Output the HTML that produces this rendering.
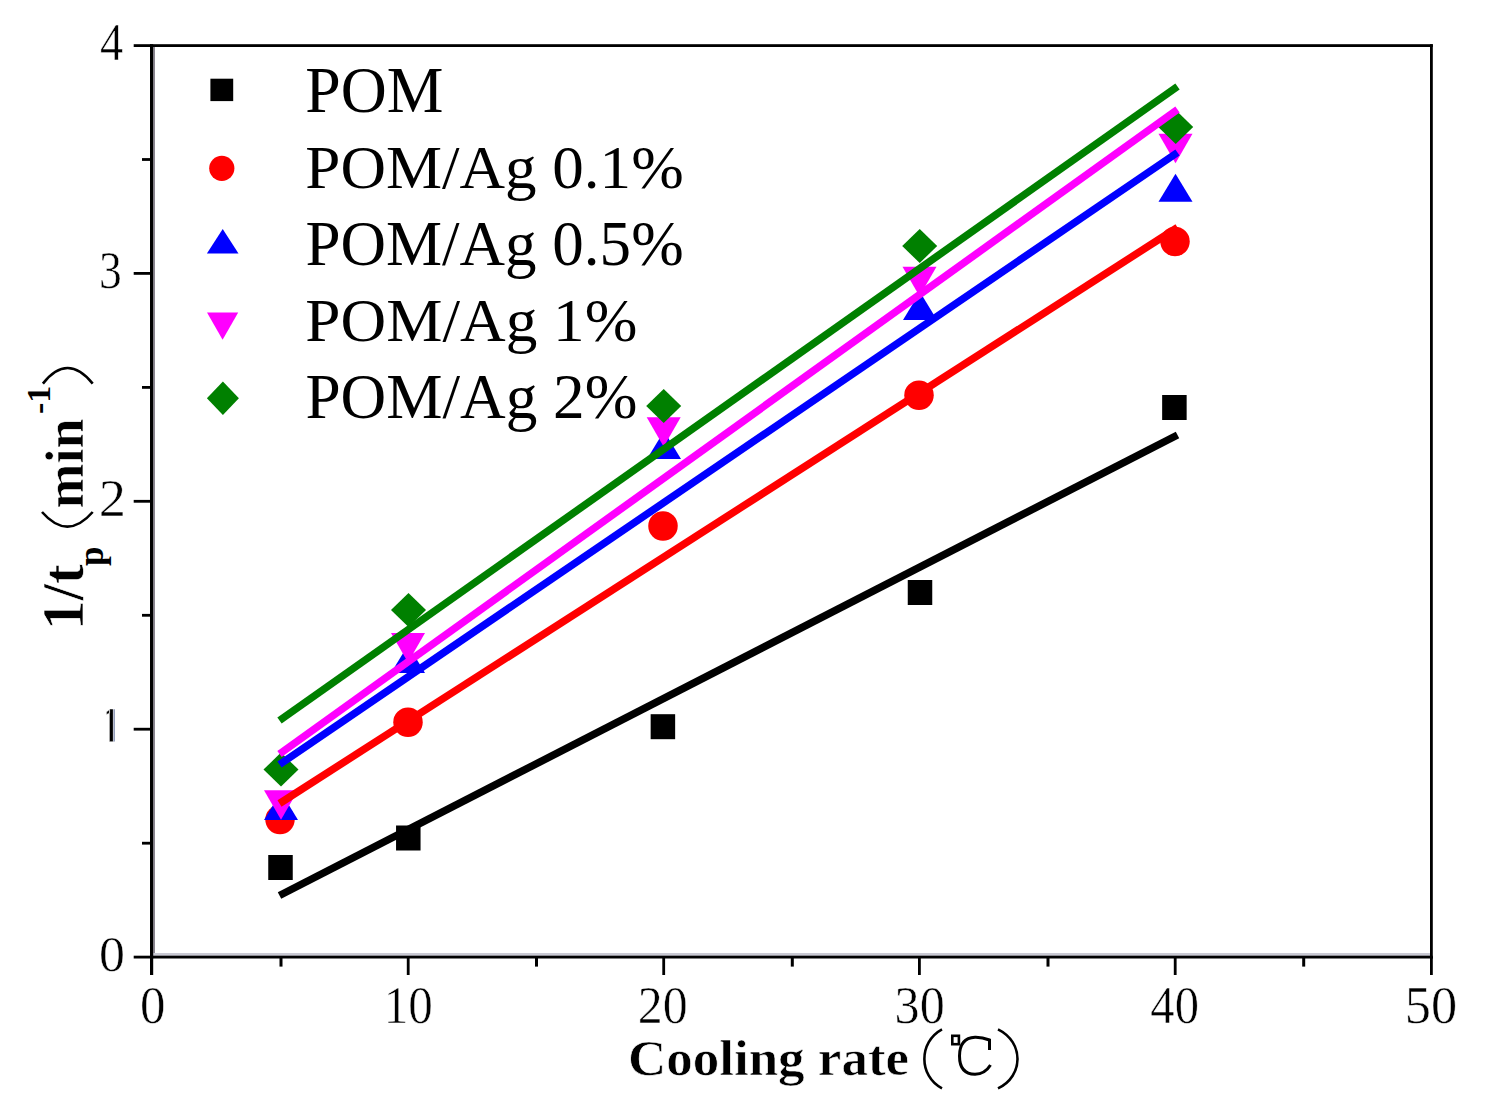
<!DOCTYPE html>
<html><head><meta charset="utf-8"><title>Chart</title>
<style>
html,body{margin:0;padding:0;background:#fff;}
body{width:1499px;height:1102px;overflow:hidden;}
svg{display:block;}
text{font-family:"Liberation Serif",serif;fill:#000;}
.b{font-weight:bold;stroke:#fff;stroke-width:0.6px;}
.t{stroke:#fff;stroke-width:0.5px;}
</style></head><body>
<svg width="1499" height="1102" viewBox="0 0 1499 1102">
<rect x="0" y="0" width="1499" height="1102" fill="#fff"/>

<g id="axes">
  <rect x="153" y="953" width="1277" height="3" fill="#c9c9d3"/>
  <rect x="153.2" y="47" width="1.8" height="906" fill="#8a8590"/>
  <rect x="150" y="44.2" width="1282.8" height="2.8" fill="#000"/>
  <rect x="150" y="44.2" width="3.2" height="914.2" fill="#000"/>
  <rect x="1430" y="44.2" width="2.8" height="914.2" fill="#000"/>
  <rect x="150" y="955.7" width="1282.8" height="2.8" fill="#000"/>
  <g fill="#000">
    <rect x="133.7" y="955.7" width="17" height="2.8"/>
    <rect x="133.7" y="727.8" width="17" height="2.8"/>
    <rect x="133.7" y="499.9" width="17" height="2.8"/>
    <rect x="133.7" y="272" width="17" height="2.8"/>
    <rect x="133.7" y="44.2" width="17" height="2.8"/>
    <rect x="142" y="841.8" width="9" height="2.8"/>
    <rect x="142" y="613.9" width="9" height="2.8"/>
    <rect x="142" y="386" width="9" height="2.8"/>
    <rect x="142" y="158.1" width="9" height="2.8"/>
    <rect x="150" y="957" width="3.2" height="18"/>
    <rect x="406.8" y="957" width="2.8" height="18"/>
    <rect x="662.3" y="957" width="2.8" height="18"/>
    <rect x="918" y="957" width="2.8" height="18"/>
    <rect x="1173.8" y="957" width="2.8" height="18"/>
    <rect x="1430" y="957" width="2.8" height="18"/>
    <rect x="279.5" y="957" width="3" height="9.6"/>
    <rect x="535" y="957" width="3" height="9.6"/>
    <rect x="790.8" y="957" width="3" height="9.6"/>
    <rect x="1046.5" y="957" width="3" height="9.6"/>
    <rect x="1302.2" y="957" width="3" height="9.6"/>
  </g>
</g>

<g class="t">
<text x="99.02" y="971.00" font-size="51.13" textLength="25.95" lengthAdjust="spacingAndGlyphs">0</text>
<text x="98.81" y="516.10" font-size="53.01" textLength="27.19" lengthAdjust="spacingAndGlyphs">2</text>
<text x="99.02" y="288.09" font-size="52.69" textLength="22.76" lengthAdjust="spacingAndGlyphs">3</text>
<text x="100.10" y="60.30" font-size="53.02" textLength="23.13" lengthAdjust="spacingAndGlyphs">4</text>
<path d="M109.4,709 L113.3,709 L113.3,741.7 L109.4,741.7 Z M109.6,709.6 L106.4,712 L106.4,714.4 L109.6,713.2 Z" fill="#000"/><rect x="113.3" y="709" width="1.6" height="32.7" fill="#4a5a8a"/>
<text x="140.06" y="1023.09" font-size="52.02" textLength="25.48" lengthAdjust="spacingAndGlyphs">0</text>
<text x="383.79" y="1023.09" font-size="52.02" textLength="49.08" lengthAdjust="spacingAndGlyphs">10</text>
<text x="637.81" y="1023.09" font-size="52.02" textLength="49.89" lengthAdjust="spacingAndGlyphs">20</text>
<text x="894.60" y="1023.09" font-size="52.02" textLength="50.11" lengthAdjust="spacingAndGlyphs">30</text>
<text x="1150.35" y="1023.09" font-size="52.02" textLength="48.60" lengthAdjust="spacingAndGlyphs">40</text>
<text x="1404.75" y="1023.09" font-size="52.02" textLength="52.44" lengthAdjust="spacingAndGlyphs">50</text>
</g>
<text class="b" x="627.91" y="1074.60" font-size="50.19" textLength="281.16" lengthAdjust="spacingAndGlyphs">Cooling rate</text>
<g fill="none" stroke="#000" stroke-width="2.6">
  <path d="M942,1029.3 C918.5,1042 918.5,1076 942,1088.4"/>
  <path d="M998,1029.3 C1024,1042 1024,1076 998,1088.4"/>
  <rect x="952.3" y="1035.8" width="6.6" height="8.4"/>
  <path d="M989.5,1050 L989.5,1040 Q982,1037 975,1037.2 Q959.5,1038 959.5,1056 Q959.5,1074 975,1074.3 Q985,1074 990.5,1065" stroke-width="3"/>
</g>
<g transform="rotate(-90)">
  <text class="b" x="-630" y="82.5" font-size="59">1/t</text>
  <text class="b" x="-566" y="103" font-size="35" style="stroke-width:0">p</text>
  <text class="b" x="-508.5" y="82.5" font-size="54">min</text>
  <text class="b" x="-414" y="50" font-size="34" style="stroke-width:0">-1</text>
</g>
<g fill="none" stroke="#000" stroke-width="2.6">
  <path d="M42,512 Q67.4,541.2 92.7,512"/>
  <path d="M42.9,383.6 Q67.4,352.4 92.7,383.6"/>
</g>
<g fill="#000"><rect x="268.25" y="855.00" width="24.50" height="25.00"/><rect x="396.05" y="825.50" width="24.50" height="25.00"/><rect x="650.65" y="714.20" width="24.50" height="25.00"/><rect x="907.75" y="580.00" width="24.50" height="25.00"/><rect x="1162.15" y="395.00" width="24.50" height="25.00"/></g>
<g fill="#ff0000"><circle cx="280.00" cy="819.60" r="14.75"/><circle cx="408.00" cy="722.30" r="14.75"/><circle cx="663.00" cy="526.00" r="14.75"/><circle cx="919.00" cy="395.20" r="14.75"/><circle cx="1175.00" cy="241.50" r="14.75"/></g>
<g fill="#0000ff"><polygon points="281.00,792.00 298.00,820.00 264.00,820.00"/><polygon points="408.00,645.00 425.00,673.00 391.00,673.00"/><polygon points="664.00,431.00 681.00,459.00 647.00,459.00"/><polygon points="920.00,292.00 937.00,320.00 903.00,320.00"/><polygon points="1175.50,173.70 1192.50,201.70 1158.50,201.70"/></g>
<g fill="#ff00ff"><polygon points="264.00,790.25 298.00,790.25 281.00,819.75"/><polygon points="391.00,632.95 425.00,632.95 408.00,662.45"/><polygon points="646.70,417.25 680.70,417.25 663.70,446.75"/><polygon points="902.50,266.75 936.50,266.75 919.50,296.25"/><polygon points="1158.50,133.75 1192.50,133.75 1175.50,163.25"/></g>
<g fill="#008000"><polygon points="281.00,752.60 298.50,769.60 281.00,786.60 263.50,769.60"/><polygon points="408.50,593.00 426.00,610.00 408.50,627.00 391.00,610.00"/><polygon points="663.70,389.00 681.20,406.00 663.70,423.00 646.20,406.00"/><polygon points="919.70,229.00 937.20,246.00 919.70,263.00 902.20,246.00"/><polygon points="1175.70,109.90 1193.20,126.90 1175.70,143.90 1158.20,126.90"/></g>
<g stroke-width="7.5" stroke-linecap="butt" fill="none">
  <line x1="279.5" y1="895.5" x2="1177.5" y2="435" stroke="#000"/>
  <line x1="279.5" y1="803.5" x2="1177.5" y2="227.5" stroke="#ff0000"/>
  <line x1="279.5" y1="754" x2="1177.5" y2="109.5" stroke="#ff00ff"/>
  <line x1="279.5" y1="764.5" x2="1177.5" y2="152.5" stroke="#0000ff"/>
  <line x1="279.5" y1="720.5" x2="1177.5" y2="86.5" stroke="#008000"/>
</g>
<g fill="#000"><rect x="210.40" y="78.70" width="22.80" height="22.40"/></g>
<g fill="#ff0000"><circle cx="221.80" cy="168.30" r="12.60"/></g>
<g fill="#0000ff"><polygon points="222.70,229.00 238.50,253.60 206.90,253.60"/></g>
<g fill="#ff00ff"><polygon points="207.00,312.60 238.20,312.60 222.60,339.80"/></g>
<g fill="#008000"><polygon points="222.90,381.50 238.90,398.30 222.90,415.10 206.90,398.30"/></g>
<text x="305.36" y="111.50" font-size="64.60" textLength="138.10" lengthAdjust="spacingAndGlyphs">POM</text>
<text x="305.38" y="187.60" font-size="61.55" textLength="378.27" lengthAdjust="spacingAndGlyphs">POM/Ag 0.1%</text>
<text x="305.38" y="265.30" font-size="63.84" textLength="378.27" lengthAdjust="spacingAndGlyphs">POM/Ag 0.5%</text>
<text x="305.38" y="341.30" font-size="62.31" textLength="331.98" lengthAdjust="spacingAndGlyphs">POM/Ag 1%</text>
<text x="305.38" y="418.40" font-size="63.99" textLength="331.98" lengthAdjust="spacingAndGlyphs">POM/Ag 2%</text>
</svg>
</body></html>
